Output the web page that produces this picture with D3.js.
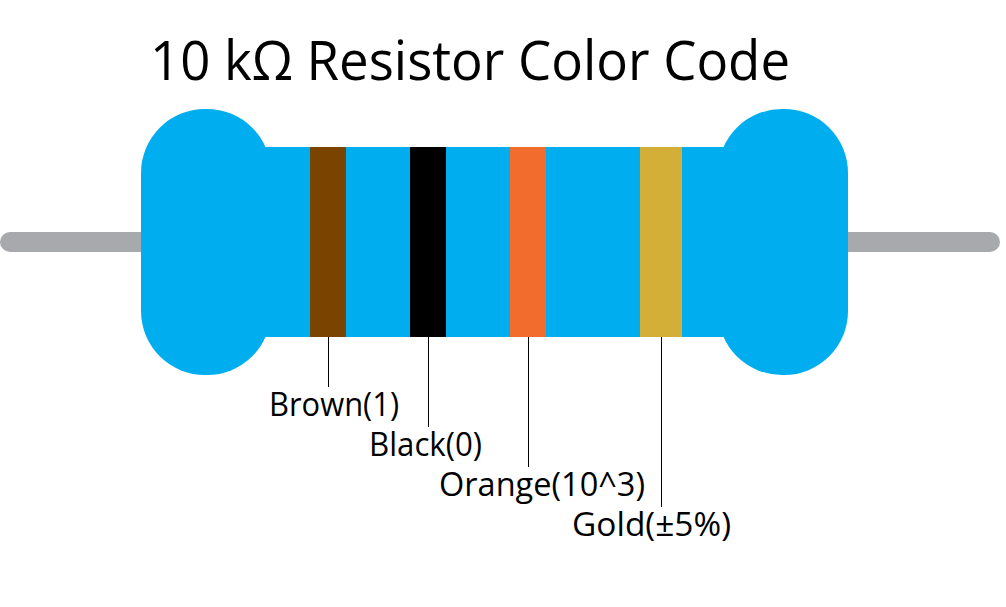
<!DOCTYPE html>
<html>
<head>
<meta charset="utf-8">
<script src="https://cdn.jsdelivr.net/npm/d3@7"></script>
<style>
html,body{margin:0;padding:0;background:#fff;overflow:hidden}
svg{display:block}
text{font-family:"Open Sans",sans-serif;fill:#000}
</style>
</head>
<body>
<div id="chart"></div>
<script>
var titleText="10 k\u03a9 Resistor Color Code";
var bandNames=["Brown","Black","Orange","Gold"];
var bandCodes=["1","0","10^3","\u00b15%"];
var bandColors=["#7b4300","#000000","#f26c2e","#d4af37"];
// slot = place along the body, tolerance band sits further off
var bandSlots=[0,1,2,3.3];
var bandSpans=[0.36,0.36,0.36,0.42];

var W=1006,H=607;
var svg=d3.select("#chart").append("svg").attr("width",W).attr("height",H);

var x=d3.scaleLinear().domain([0,1]).range([310,410]);
var labelY=d3.scaleLinear().domain([0,1]).range([416,456]);
var lineY=d3.scaleLinear().domain([0,1]).range([387,427]);

// leads
svg.append("rect").attr("x",0).attr("y",232).attr("width",1000).attr("height",20)
	.attr("rx",10).attr("fill","#a7a9ac");

// body and the two caps
var blue="#00aeef";
svg.append("rect").attr("x",230).attr("y",147).attr("width",530).attr("height",190).attr("fill",blue);
svg.selectAll("rect.cap").data([141,718]).enter().append("rect")
	.attr("class","cap")
	.attr("x",function(d){return d})
	.attr("y",109).attr("width",130).attr("height",266)
	.attr("rx",64).attr("fill",blue);

// bands
svg.selectAll("rect.band").data(bandSlots).enter().append("rect")
	.attr("class","band")
	.attr("x",function(d){return x(d)})
	.attr("y",147)
	.attr("width",function(d,i){return x(bandSpans[i])-x(0)})
	.attr("height",190)
	.attr("fill",function(d,i){return bandColors[i]});

// leader lines
svg.selectAll("line.lead").data(bandSlots).enter().append("line")
	.attr("class","lead")
	.attr("x1",function(d,i){return Math.round(x(d+bandSpans[i]/2))+0.5})
	.attr("x2",function(d,i){return Math.round(x(d+bandSpans[i]/2))+0.5})
	.attr("y1",337)
	.attr("y2",function(d,i){return lineY(i)})
	.attr("stroke","#000").attr("stroke-width",1);

// labels, squeezed to the measured widths
var labelX=[269,369,439,572];
var labelW=[130,113,206,159];
svg.selectAll("text.lbl").data(bandNames).enter().append("text")
	.attr("class","lbl")
	.attr("x",function(d,i){return labelX[i]})
	.attr("y",function(d,i){return labelY(i)})
	.attr("font-size",32)
	.attr("textLength",function(d,i){return labelW[i]})
	.attr("lengthAdjust","spacingAndGlyphs")
	.text(function(d,i){return d+"("+bandCodes[i]+")"});

svg.append("text").attr("x",150).attr("y",80).attr("font-size",55)
	.attr("textLength",640).attr("lengthAdjust","spacingAndGlyphs").text(titleText);
</script>
</body>
</html>
